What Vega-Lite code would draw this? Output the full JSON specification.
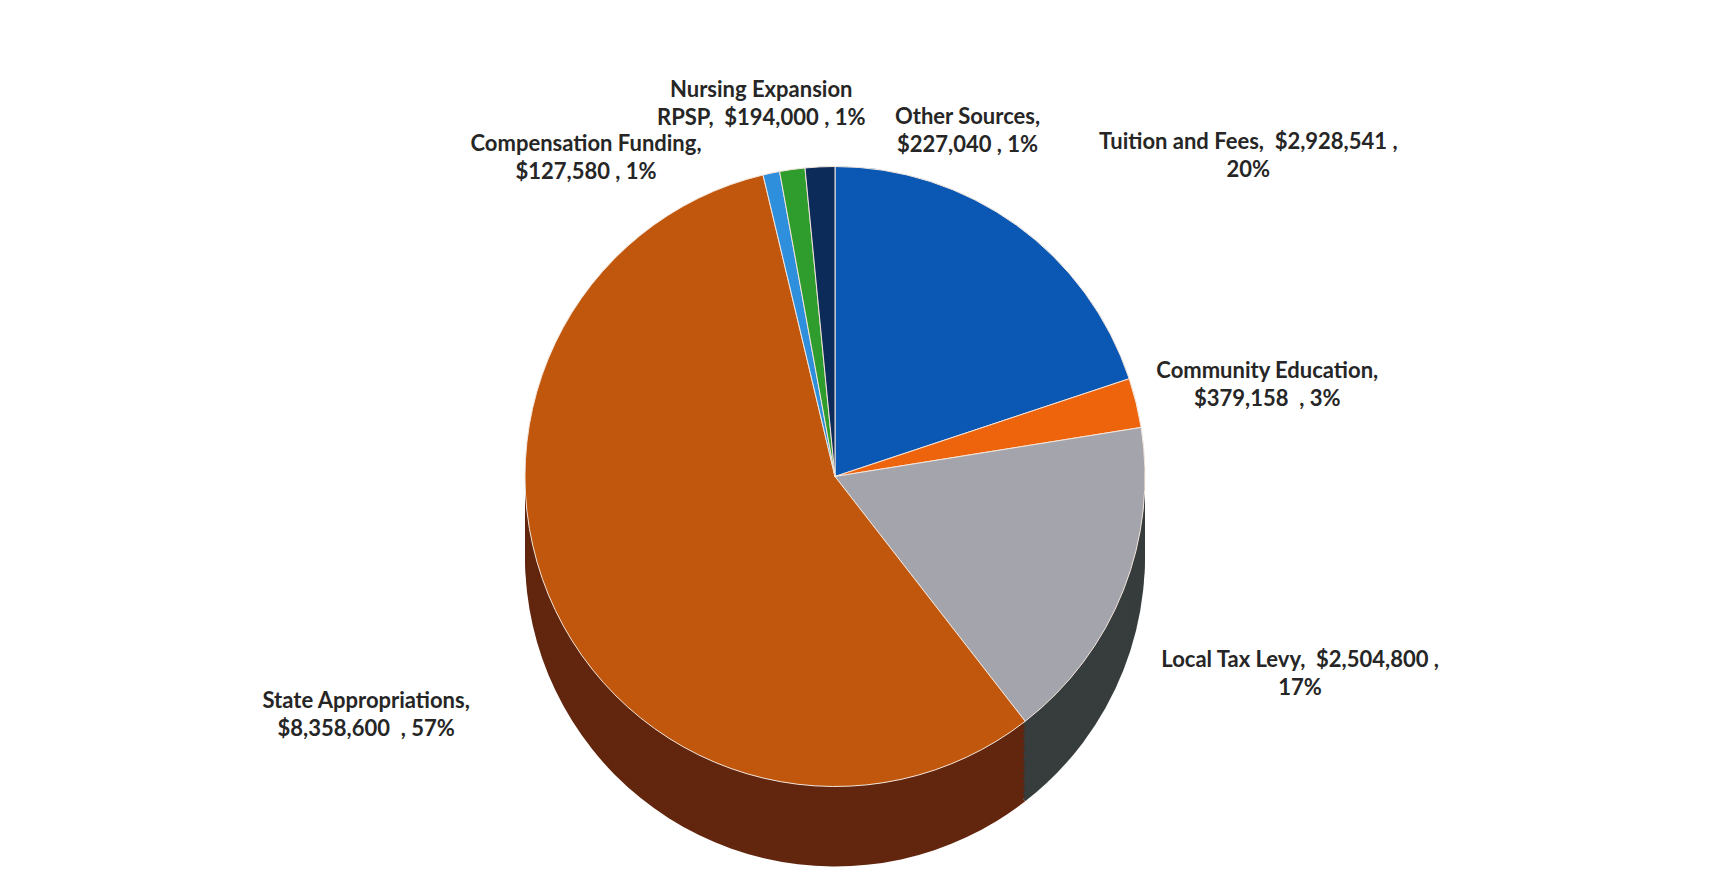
{
  "$schema": "https://vega.github.io/schema/vega-lite/v6.json",
  "autosize": {"type": "fit", "contains": "padding"},
  "width": 1734,
  "height": 876,
  "padding": {"left": 0, "top": 0, "right": 64, "bottom": 16},
  "background": "#ffffff",
  "config": {"view": {"stroke": null}},
  "data": {
    "values": [
      {"source": "Tuition and Fees", "amount": 2928541, "idx": 1, "label": "Tuition and Fees,\u00a0 $2,928,541 ,\n20%"},
      {"source": "Community Education", "amount": 379158, "idx": 2, "label": "Community Education,\n$379,158\u00a0 , 3%"},
      {"source": "Local Tax Levy", "amount": 2504800, "idx": 3, "label": "Local Tax Levy,\u00a0 $2,504,800 ,\n17%"},
      {"source": "State Appropriations", "amount": 8358600, "idx": 4, "label": "State Appropriations,\n$8,358,600\u00a0 , 57%"},
      {"source": "Compensation Funding", "amount": 127580, "idx": 5, "label": "Compensation Funding,\n$127,580 , 1%"},
      {"source": "Nursing Expansion RPSP", "amount": 194000, "idx": 6, "label": "Nursing Expansion\nRPSP,\u00a0 $194,000 , 1%"},
      {"source": "Other Sources", "amount": 227040, "idx": 7, "label": "Other Sources,\n$227,040 , 1%"}
    ]
  },
  "encoding": {
    "theta": {"field": "amount", "type": "quantitative", "stack": true},
    "order": {"field": "idx", "type": "quantitative"}
  },
  "layer": [
    {"mark": {"type": "arc", "radius": 310, "yOffset": 80}, "encoding": {"color": {"field": "source", "type": "nominal", "legend": null, "scale": {"domain": ["Tuition and Fees","Community Education","Local Tax Levy","State Appropriations","Compensation Funding","Nursing Expansion RPSP","Other Sources"], "range": ["#07346c","#8c3a07","#373d3d","#62260f","#1b5585","#1b5e1b","#061a35"]}}}},
    {"mark": {"type": "arc", "radius": 310, "yOffset": 75}, "encoding": {"color": {"field": "source", "type": "nominal", "legend": null, "scale": {"domain": ["Tuition and Fees","Community Education","Local Tax Levy","State Appropriations","Compensation Funding","Nursing Expansion RPSP","Other Sources"], "range": ["#07346c","#8c3a07","#373d3d","#62260f","#1b5585","#1b5e1b","#061a35"]}}}},
    {"mark": {"type": "arc", "radius": 310, "yOffset": 70}, "encoding": {"color": {"field": "source", "type": "nominal", "legend": null, "scale": {"domain": ["Tuition and Fees","Community Education","Local Tax Levy","State Appropriations","Compensation Funding","Nursing Expansion RPSP","Other Sources"], "range": ["#07346c","#8c3a07","#373d3d","#62260f","#1b5585","#1b5e1b","#061a35"]}}}},
    {"mark": {"type": "arc", "radius": 310, "yOffset": 65}, "encoding": {"color": {"field": "source", "type": "nominal", "legend": null, "scale": {"domain": ["Tuition and Fees","Community Education","Local Tax Levy","State Appropriations","Compensation Funding","Nursing Expansion RPSP","Other Sources"], "range": ["#07346c","#8c3a07","#373d3d","#62260f","#1b5585","#1b5e1b","#061a35"]}}}},
    {"mark": {"type": "arc", "radius": 310, "yOffset": 60}, "encoding": {"color": {"field": "source", "type": "nominal", "legend": null, "scale": {"domain": ["Tuition and Fees","Community Education","Local Tax Levy","State Appropriations","Compensation Funding","Nursing Expansion RPSP","Other Sources"], "range": ["#07346c","#8c3a07","#373d3d","#62260f","#1b5585","#1b5e1b","#061a35"]}}}},
    {"mark": {"type": "arc", "radius": 310, "yOffset": 55}, "encoding": {"color": {"field": "source", "type": "nominal", "legend": null, "scale": {"domain": ["Tuition and Fees","Community Education","Local Tax Levy","State Appropriations","Compensation Funding","Nursing Expansion RPSP","Other Sources"], "range": ["#07346c","#8c3a07","#373d3d","#62260f","#1b5585","#1b5e1b","#061a35"]}}}},
    {"mark": {"type": "arc", "radius": 310, "yOffset": 50}, "encoding": {"color": {"field": "source", "type": "nominal", "legend": null, "scale": {"domain": ["Tuition and Fees","Community Education","Local Tax Levy","State Appropriations","Compensation Funding","Nursing Expansion RPSP","Other Sources"], "range": ["#07346c","#8c3a07","#373d3d","#62260f","#1b5585","#1b5e1b","#061a35"]}}}},
    {"mark": {"type": "arc", "radius": 310, "yOffset": 45}, "encoding": {"color": {"field": "source", "type": "nominal", "legend": null, "scale": {"domain": ["Tuition and Fees","Community Education","Local Tax Levy","State Appropriations","Compensation Funding","Nursing Expansion RPSP","Other Sources"], "range": ["#07346c","#8c3a07","#373d3d","#62260f","#1b5585","#1b5e1b","#061a35"]}}}},
    {"mark": {"type": "arc", "radius": 310, "yOffset": 40}, "encoding": {"color": {"field": "source", "type": "nominal", "legend": null, "scale": {"domain": ["Tuition and Fees","Community Education","Local Tax Levy","State Appropriations","Compensation Funding","Nursing Expansion RPSP","Other Sources"], "range": ["#07346c","#8c3a07","#373d3d","#62260f","#1b5585","#1b5e1b","#061a35"]}}}},
    {"mark": {"type": "arc", "radius": 310, "yOffset": 35}, "encoding": {"color": {"field": "source", "type": "nominal", "legend": null, "scale": {"domain": ["Tuition and Fees","Community Education","Local Tax Levy","State Appropriations","Compensation Funding","Nursing Expansion RPSP","Other Sources"], "range": ["#07346c","#8c3a07","#373d3d","#62260f","#1b5585","#1b5e1b","#061a35"]}}}},
    {"mark": {"type": "arc", "radius": 310, "yOffset": 30}, "encoding": {"color": {"field": "source", "type": "nominal", "legend": null, "scale": {"domain": ["Tuition and Fees","Community Education","Local Tax Levy","State Appropriations","Compensation Funding","Nursing Expansion RPSP","Other Sources"], "range": ["#07346c","#8c3a07","#373d3d","#62260f","#1b5585","#1b5e1b","#061a35"]}}}},
    {"mark": {"type": "arc", "radius": 310, "yOffset": 25}, "encoding": {"color": {"field": "source", "type": "nominal", "legend": null, "scale": {"domain": ["Tuition and Fees","Community Education","Local Tax Levy","State Appropriations","Compensation Funding","Nursing Expansion RPSP","Other Sources"], "range": ["#07346c","#8c3a07","#373d3d","#62260f","#1b5585","#1b5e1b","#061a35"]}}}},
    {"mark": {"type": "arc", "radius": 310, "yOffset": 20}, "encoding": {"color": {"field": "source", "type": "nominal", "legend": null, "scale": {"domain": ["Tuition and Fees","Community Education","Local Tax Levy","State Appropriations","Compensation Funding","Nursing Expansion RPSP","Other Sources"], "range": ["#07346c","#8c3a07","#373d3d","#62260f","#1b5585","#1b5e1b","#061a35"]}}}},
    {"mark": {"type": "arc", "radius": 310, "yOffset": 15}, "encoding": {"color": {"field": "source", "type": "nominal", "legend": null, "scale": {"domain": ["Tuition and Fees","Community Education","Local Tax Levy","State Appropriations","Compensation Funding","Nursing Expansion RPSP","Other Sources"], "range": ["#07346c","#8c3a07","#373d3d","#62260f","#1b5585","#1b5e1b","#061a35"]}}}},
    {"mark": {"type": "arc", "radius": 310, "yOffset": 10}, "encoding": {"color": {"field": "source", "type": "nominal", "legend": null, "scale": {"domain": ["Tuition and Fees","Community Education","Local Tax Levy","State Appropriations","Compensation Funding","Nursing Expansion RPSP","Other Sources"], "range": ["#07346c","#8c3a07","#373d3d","#62260f","#1b5585","#1b5e1b","#061a35"]}}}},
    {"mark": {"type": "arc", "radius": 310, "yOffset": 5}, "encoding": {"color": {"field": "source", "type": "nominal", "legend": null, "scale": {"domain": ["Tuition and Fees","Community Education","Local Tax Levy","State Appropriations","Compensation Funding","Nursing Expansion RPSP","Other Sources"], "range": ["#07346c","#8c3a07","#373d3d","#62260f","#1b5585","#1b5e1b","#061a35"]}}}},
    {
      "mark": {"type": "arc", "radius": 310, "stroke": "#f4e6dc", "strokeWidth": 1},
      "encoding": {"color": {"field": "source", "type": "nominal", "legend": null,
          "scale": {"domain": ["Tuition and Fees","Community Education","Local Tax Levy","State Appropriations","Compensation Funding","Nursing Expansion RPSP","Other Sources"],
                    "range": ["#0b58b4","#ee640c","#a3a4ac","#c0570d","#2e8fdc","#2e9d2e","#0c2b58"]}}}
    },
    {
      "mark": {"type": "text", "radius": 450, "dx": 150, "dy": 30, "align": "center", "baseline": "middle", "lineBreak": "\n", "font": "Lato", "fontWeight": "bold", "fontSize": 22, "lineHeight": 28, "color": "#262626"},
      "encoding": {"text": {"condition": {"test": "datum.source === 'Tuition and Fees'", "field": "label"}, "value": ""}}
    },
    {
      "mark": {"type": "text", "radius": 445, "align": "center", "baseline": "middle", "lineBreak": "\n", "font": "Lato", "fontWeight": "bold", "fontSize": 22, "lineHeight": 28, "color": "#262626"},
      "encoding": {"text": {"condition": {"test": "datum.source === 'Community Education'", "field": "label"}, "value": ""}}
    },
    {
      "mark": {"type": "text", "radius": 500, "align": "center", "baseline": "middle", "lineBreak": "\n", "font": "Lato", "fontWeight": "bold", "fontSize": 22, "lineHeight": 28, "color": "#262626"},
      "encoding": {"text": {"condition": {"test": "datum.source === 'Local Tax Levy'", "field": "label"}, "value": ""}}
    },
    {
      "mark": {"type": "text", "radius": 520, "align": "center", "baseline": "middle", "lineBreak": "\n", "font": "Lato", "fontWeight": "bold", "fontSize": 22, "lineHeight": 28, "color": "#262626"},
      "encoding": {"text": {"condition": {"test": "datum.source === 'State Appropriations'", "field": "label"}, "value": ""}}
    },
    {
      "mark": {"type": "text", "radius": 360, "dx": -175, "dy": 20, "align": "center", "baseline": "middle", "lineBreak": "\n", "font": "Lato", "fontWeight": "bold", "fontSize": 22, "lineHeight": 28, "color": "#262626"},
      "encoding": {"text": {"condition": {"test": "datum.source === 'Compensation Funding'", "field": "label"}, "value": ""}}
    },
    {
      "mark": {"type": "text", "radius": 390, "dx": -20, "align": "center", "baseline": "middle", "lineBreak": "\n", "font": "Lato", "fontWeight": "bold", "fontSize": 22, "lineHeight": 28, "color": "#262626"},
      "encoding": {"text": {"condition": {"test": "datum.source === 'Nursing Expansion RPSP'", "field": "label"}, "value": ""}}
    },
    {
      "mark": {"type": "text", "radius": 360, "dx": 150, "align": "center", "baseline": "middle", "lineBreak": "\n", "font": "Lato", "fontWeight": "bold", "fontSize": 22, "lineHeight": 28, "color": "#262626"},
      "encoding": {"text": {"condition": {"test": "datum.source === 'Other Sources'", "field": "label"}, "value": ""}}
    }
  ],
  "resolve": {"scale": {"color": "independent"}}
}
